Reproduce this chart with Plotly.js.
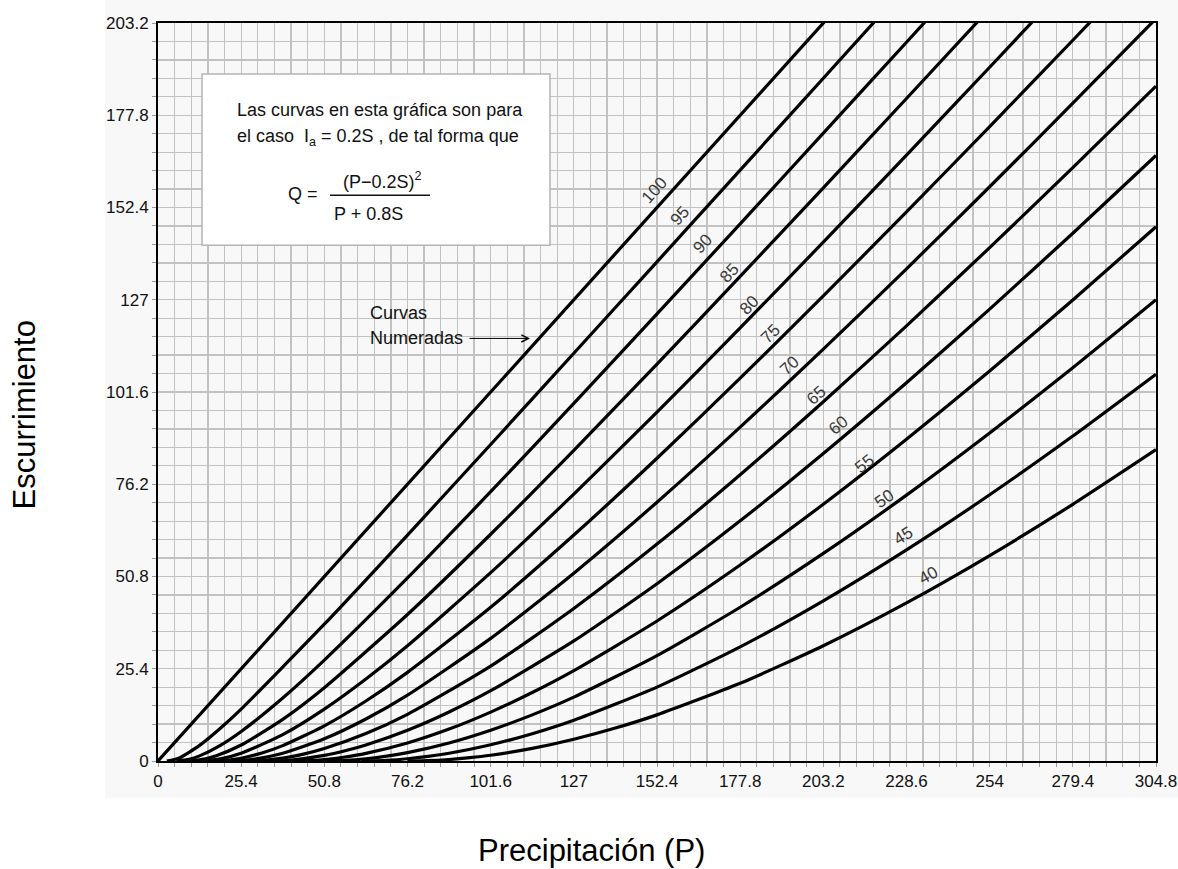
<!DOCTYPE html>
<html>
<head>
<meta charset="utf-8">
<script src="https://cdn.plot.ly/plotly-3.0.1.min.js"></script>
<style>html,body{margin:0;padding:0;background:#fff;}#chart{width:1178px;height:869px;}</style>
</head>
<body>
<div id="chart"></div>
<script>
// Tick labels (mm)
const xTickVals = [0, 25.4, 50.8, 76.2, 101.6, 127, 152.4, 177.8, 203.2, 228.6, 254, 279.4, 304.8];
const xTickText = ["0", "25.4", "50.8", "76.2", "101.6", "127", "152.4", "177.8", "203.2", "228.6", "254", "279.4", "304.8"];
const yTickVals = [0, 25.4, 50.8, 76.2, 101.6, 127, 152.4, 177.8, 203.2];
const yTickText = ["0", "25.4", "50.8", "76.2", "101.6", "127", "152.4", "177.8", "203.2"];

// Curve numbers
const curveNumbers = [100, 95, 90, 85, 80, 75, 70, 65, 60, 55, 50, 45, 40];

// Precipitation (P) and runoff (Q)
const p100 = [0, 101.6, 228.6];
const q100 = [0, 101.6, 228.6];
const p95 = [2.7, 6.35, 12.7, 19.05, 25.4, 50.8, 76.2, 101.6, 127, 152.4, 177.8, 203.2, 228.6];
const q95 = [0, 0.79, 4.30, 9.02, 14.31, 37.66, 62.21, 87.15, 112.26, 137.45, 162.70, 188.00, 213.31];
const p90 = [5.6, 9.5, 12.7, 19.05, 25.4, 38.1, 50.8, 76.2, 101.6, 127, 152.4, 177.8, 203.2, 228.6, 254];
const q90 = [0, 0.46, 1.41, 4.32, 8.14, 17.36, 27.79, 50.40, 74.15, 98.46, 123.09, 147.91, 172.86, 197.91, 223.01];
const p85 = [9.0, 12.7, 17.8, 25.4, 38.1, 50.8, 76.2, 101.6, 127, 152.4, 177.8, 203.2, 228.6, 254];
const q85 = [0, 0.29, 1.45, 4.41, 11.48, 20.20, 40.34, 62.43, 85.55, 109.28, 133.42, 157.82, 182.41, 207.14];
const p80 = [12.7, 19.05, 25.4, 38.1, 50.8, 63.5, 76.2, 101.6, 127, 152.4, 177.8, 203.2, 228.6, 254, 279.4];
const q80 = [0, 0.58, 2.12, 7.26, 14.29, 22.58, 31.75, 51.86, 73.48, 96.04, 119.24, 142.87, 166.83, 191.02, 215.41];
const p75 = [16.9, 20, 25.4, 31.75, 38.1, 50.8, 63.5, 76.2, 101.6, 127, 152.4, 177.8, 203.2, 228.6, 254, 279.4, 304.8];
const q75 = [0, 0.11, 0.77, 2.21, 4.23, 9.68, 16.52, 24.40, 42.33, 62.21, 83.36, 105.40, 128.06, 151.19, 174.68, 198.45, 222.44];
const p70 = [21.8, 25.4, 30, 38.1, 50.8, 63.5, 76.2, 101.6, 127, 152.4, 177.8, 203.2, 228.6, 254, 279.4, 304.8];
const q70 = [0, 0.12, 0.58, 2.13, 6.11, 11.56, 18.14, 33.77, 51.72, 71.25, 91.91, 113.39, 135.51, 158.11, 181.11, 204.41];
const p65 = [27.4, 31.75, 38.1, 44.45, 50.8, 63.5, 76.2, 101.6, 127, 152.4, 177.8, 203.2, 228.6, 254, 279.4, 304.8];
const q65 = [0, 0.14, 0.78, 1.90, 3.43, 7.56, 12.85, 26.12, 42.00, 59.72, 78.81, 98.91, 119.82, 141.35, 163.39, 185.84];
const p60 = [33.9, 40, 50.8, 57.15, 63.5, 76.2, 88.9, 101.6, 127, 152.4, 177.8, 203.2, 228.6, 254, 279.4, 304.8];
const q60 = [0, 0.21, 1.54, 2.81, 4.41, 8.47, 13.50, 19.35, 33.05, 48.81, 66.13, 84.67, 104.16, 124.42, 145.32, 166.73];
const p55 = [41.6, 46, 50.8, 57.15, 63.5, 76.2, 88.9, 101.6, 114.3, 127, 152.4, 177.8, 203.2, 228.6, 254, 279.4, 304.8];
const q55 = [0, 0.09, 0.39, 1.09, 2.09, 4.95, 8.78, 13.46, 18.86, 24.89, 38.55, 53.95, 70.71, 88.60, 107.38, 126.93, 147.10];
const p50 = [50.8, 57.15, 63.5, 69.85, 76.2, 88.9, 101.6, 114.3, 127, 152.4, 177.8, 203.2, 228.6, 254, 279.4, 304.8];
const q50 = [0, 0.16, 0.61, 1.33, 2.31, 4.97, 8.47, 12.70, 17.58, 29.03, 42.33, 57.15, 73.21, 90.31, 108.28, 127.0];
const p45 = [62.1, 69.85, 76.2, 82.55, 88.9, 101.6, 114.3, 127, 152.4, 177.8, 203.2, 228.6, 254, 279.4, 304.8];
const q45 = [0, 0.19, 0.61, 1.27, 2.13, 4.46, 7.52, 11.23, 20.35, 31.42, 44.10, 58.13, 73.31, 89.48, 106.50];
const p40 = [76.2, 82.55, 88.9, 95.25, 101.6, 114.3, 127, 139.7, 152.4, 177.8, 203.2, 228.6, 254, 279.4, 304.8];
const q40 = [0, 0.10, 0.41, 0.91, 1.59, 3.46, 5.98, 9.07, 12.70, 21.39, 31.75, 43.54, 56.57, 70.68, 85.72];

const curveP = [p100, p95, p90, p85, p80, p75, p70, p65, p60, p55, p50, p45, p40];
const curveQ = [q100, q95, q90, q85, q80, q75, q70, q65, q60, q55, q50, q45, q40];

// Label anchor points along each curve (P, Q) and their slant
const labelP = [151.5, 159.4, 166.4, 174.4, 180.5, 187.2, 193.0, 201.0, 207.7, 215.9, 222.0, 227.8, 235.2];
const labelQ = [157.2, 150.3, 142.5, 134.3, 125.4, 117.7, 108.9, 100.6, 92.4, 81.9, 72.2, 62.0, 51.0];
const labelAngle = [48, 48, 47, 47, 46, 45, 43, 42, 40, 38, 35, 32, 29];

const traces = curveNumbers.map((cn, i) => ({
  type: 'scatter', mode: 'lines',
  x: curveP[i], y: curveQ[i],
  line: {color: '#000', width: 3.2, shape: 'spline', smoothing: 0.6},
  hoverinfo: 'skip', showlegend: false
}));

const labelFont = {family: 'Liberation Sans, Arial, sans-serif', size: 17, color: '#3a3a3a'};
const boxFont = {family: 'Liberation Sans, Arial, sans-serif', size: 18, color: '#111'};

const annotations = curveNumbers.map((cn, i) => ({
  x: labelP[i], y: labelQ[i], xref: 'x', yref: 'y',
  text: String(cn), showarrow: false, textangle: -labelAngle[i], font: labelFont
}));

// helper: pixel -> paper
const L = 158, T = 23, W = 998, H = 737;
const px = v => (v - L) / W;
const py = v => (T + H - v) / H;

annotations.push(
  {xref: 'paper', yref: 'paper', x: px(235), y: py(110), xanchor: 'left', yanchor: 'middle', showarrow: false,
   text: 'Las curvas en esta gráfica son para', font: boxFont},
  {xref: 'paper', yref: 'paper', x: px(235), y: py(137), xanchor: 'left', yanchor: 'middle', showarrow: false,
   text: 'el caso  I<sub>a</sub> = 0.2S , de tal forma que', font: boxFont},
  {xref: 'paper', yref: 'paper', x: px(303), y: py(194), xanchor: 'center', yanchor: 'middle', showarrow: false,
   text: 'Q =', font: boxFont},
  {xref: 'paper', yref: 'paper', x: px(382), y: py(180), xanchor: 'center', yanchor: 'middle', showarrow: false,
   text: '(P−0.2S)<sup>2</sup>', font: boxFont},
  {xref: 'paper', yref: 'paper', x: px(368), y: py(214), xanchor: 'center', yanchor: 'middle', showarrow: false,
   text: 'P + 0.8S', font: boxFont},
  {xref: 'paper', yref: 'paper', x: px(368), y: py(313), xanchor: 'left', yanchor: 'middle', showarrow: false,
   text: 'Curvas', font: boxFont},
  {xref: 'paper', yref: 'paper', x: px(368), y: py(338), xanchor: 'left', yanchor: 'middle', showarrow: false,
   text: 'Numeradas', font: boxFont},
  {xref: 'paper', yref: 'paper', x: px(530), y: py(338), ax: -62, ay: 0, text: '', showarrow: true,
   arrowhead: 5, arrowsize: 1.4, arrowwidth: 1, arrowcolor: '#000'},
  {xref: 'paper', yref: 'paper', x: px(25), y: py(414), xanchor: 'center', yanchor: 'middle', showarrow: false,
   text: 'Escurrimiento', textangle: -90,
   font: {family: 'Liberation Sans, Arial, sans-serif', size: 31, color: '#000'}},
  {xref: 'paper', yref: 'paper', x: px(591), y: py(849), xanchor: 'center', yanchor: 'middle', showarrow: false,
   text: 'Precipitación (P)',
   font: {family: 'Liberation Sans, Arial, sans-serif', size: 31, color: '#000'}}
);

const shapes = [
  {type: 'rect', xref: 'paper', yref: 'paper', x0: px(105), x1: px(1178), y0: py(797), y1: py(0),
   fillcolor: '#f8f8f8', line: {width: 0}, layer: 'below'},
  {type: 'rect', xref: 'paper', yref: 'paper', x0: px(202), x1: px(550), y0: py(245), y1: py(74),
   fillcolor: '#ffffff', line: {color: '#b4b4b4', width: 1.5}, layer: 'above'},
  {type: 'line', xref: 'paper', yref: 'paper', x0: px(330), x1: px(430), y0: py(195), y1: py(195),
   line: {color: '#111', width: 1.5}, layer: 'above'}
];

const tickFont = {family: 'Liberation Sans, Arial, sans-serif', size: 17, color: '#111'};
const gridColor = '#c2c2c2';

const layout = {
  width: 1178, height: 869,
  margin: {l: 158, r: 22, t: 23, b: 108},
  paper_bgcolor: '#ffffff', plot_bgcolor: '#ffffff',
  showlegend: false,
  xaxis: {
    range: [0, 304.8], tickmode: 'array', tickvals: xTickVals, ticktext: xTickText,
    showgrid: true, gridcolor: gridColor, gridwidth: 1.3, zeroline: false,
    ticks: 'outside', ticklen: 4, tickcolor: '#9a9a9a', tickfont: tickFont,
    minor: {tickmode: 'linear', tick0: 0, dtick: 5.08, showgrid: true, gridcolor: gridColor, gridwidth: 1.3,
            ticks: 'outside', ticklen: 4, tickcolor: '#9a9a9a'},
    showline: true, linecolor: '#000', linewidth: 2, mirror: true, fixedrange: true
  },
  yaxis: {
    range: [0, 203.2], tickmode: 'array', tickvals: yTickVals, ticktext: yTickText,
    showgrid: true, gridcolor: gridColor, gridwidth: 1.3, zeroline: false,
    ticks: 'outside', ticklen: 4, tickcolor: '#9a9a9a', tickfont: tickFont,
    minor: {tickmode: 'linear', tick0: 0, dtick: 5.08, showgrid: true, gridcolor: gridColor, gridwidth: 1.3,
            ticks: 'outside', ticklen: 4, tickcolor: '#9a9a9a'},
    showline: true, linecolor: '#000', linewidth: 2, mirror: true, fixedrange: true
  },
  annotations: annotations,
  shapes: shapes
};

Plotly.newPlot('chart', traces, layout, {staticPlot: true, displayModeBar: false});
</script>
</body>
</html>
